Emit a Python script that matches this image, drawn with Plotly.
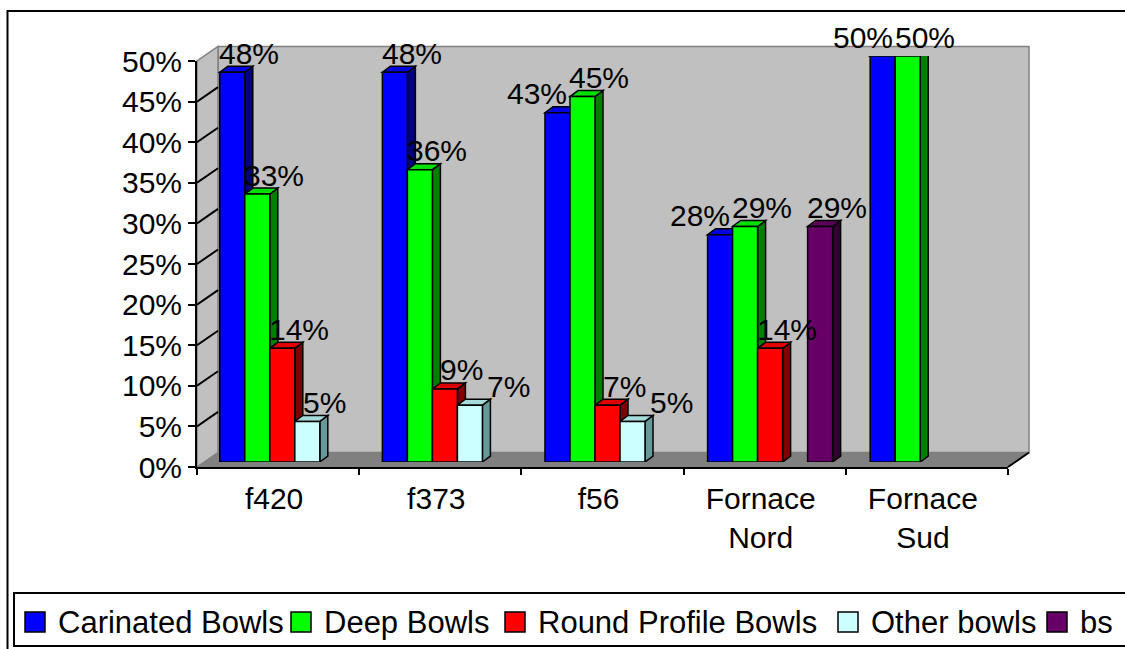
import plotly.graph_objects as go

# ---------------- data ----------------
categories = ["f420", "f373", "f56", "Fornace Nord", "Fornace Sud"]
tick_labels = ["f420", "f373", "f56", "Fornace<br>Nord", "Fornace<br>Sud"]
series_names = ["Carinated Bowls", "Deep Bowls", "Round Profile Bowls", "Other bowls", "bs"]
carinated = [48, 48, 43, 28, 50]
deep = [33, 36, 45, 29, 50]
round_profile = [14, 9, 7, 14, None]
other = [5, 7, 5, None, None]
bs = [None, None, None, 29, None]
series_values = [carinated, deep, round_profile, other, bs]
y_ticks = list(range(0, 55, 5))

# ---------------- style ----------------
front_col = ["#0000FF", "#00FF00", "#FF0000", "#CCFFFF", "#660066"]
side_col = ["#000080", "#008000", "#800000", "#669999", "#330033"]
top_col = ["#0000E0", "#00E000", "#E00000", "#A8DCDC", "#5A005A"]
FONT = "Liberation Sans, Arial, sans-serif"
FS = 30
LEG_FS = 31
W, H = 1125, 649


def X(px):
    return px / W


def Y(py):
    return 1 - py / H


# plane geometry (pixels)
FRONT_L, FRONT_R, FRONT_0, FRONT_TOP = 197, 1008, 467, 61
BACK_L, BACK_R, BACK_0, BACK_TOP = 218, 1029, 452.5, 46.5
BAR_L, BAR_R, BAR_0, BAR_TOP = 201, 1014, 462, 56

n_ser = len(series_names)
n_cat = len(categories)
bargap = 0.231
w = (1 - bargap) / n_ser
px_per_cat = (BAR_R - BAR_L) / n_cat
px_per_unit = (BAR_0 - BAR_TOP) / 50.0
DX = 8 / px_per_cat
DY = 6 / px_per_unit

# label shifts (avoid collisions of neighbouring labels, as in the original)
label_xshift = [[17] * n_cat for _ in range(n_ser)]
for i in range(n_cat):
    for k in range(n_ser - 1):
        v, vn = series_values[k][i], series_values[k + 1][i]
        if v is None or vn is None:
            continue
        if vn >= v - 1:
            label_xshift[k][i] = -20
        elif v - vn < 4:
            label_xshift[k + 1][i] += 22

fig = go.Figure()

# invisible trace to define front category axis
fig.add_trace(go.Scatter(x=categories, y=[0] * n_cat, xaxis="x2", yaxis="y2",
                         mode="markers", marker=dict(opacity=0), showlegend=False,
                         hoverinfo="skip"))

shapes = []
annotations = []

for k, (name, vals) in enumerate(zip(series_names, series_values)):
    offset = -0.5 * (1 - bargap) + k * w
    fig.add_trace(go.Bar(
        x=list(range(n_cat)), y=vals, xaxis="x3", yaxis="y3",
        width=w, offset=offset, name=name, showlegend=False,
        marker=dict(color=front_col[k], line=dict(color="black", width=1.5)),
    ))
    for i, v in enumerate(vals):
        if v is None:
            continue
        xl = i + offset
        xr = xl + w
        side = f"M{xr},0 L{xr + DX},{DY} L{xr + DX},{v + DY} L{xr},{v} Z"
        top = f"M{xl},{v} L{xr},{v} L{xr + DX},{v + DY} L{xl + DX},{v + DY} Z"
        shapes.append(dict(type="path", path=side, xref="x3", yref="y3", layer="below",
                           fillcolor=side_col[k], line=dict(color="black", width=1.5)))
        shapes.append(dict(type="path", path=top, xref="x3", yref="y3", layer="below",
                           fillcolor=top_col[k], line=dict(color="black", width=1.5)))
        annotations.append(dict(x=xl + w / 2, y=v, xref="x3", yref="y3", text=f"{v}%",
                                showarrow=False, xanchor="center", yanchor="middle",
                                xshift=label_xshift[k][i], yshift=19,
                                font=dict(family=FONT, size=FS, color="black")))

# outer chart border
shapes.append(dict(type="rect", xref="paper", yref="paper", x0=X(7.5), x1=X(1135),
                   y0=Y(660), y1=Y(11), line=dict(color="black", width=2), layer="below"))
# back wall
shapes.append(dict(type="rect", xref="paper", yref="paper", x0=X(BACK_L), x1=X(BACK_R),
                   y0=Y(BACK_0), y1=Y(BACK_TOP), fillcolor="#C0C0C0",
                   line=dict(color="#808080", width=1.5), layer="below"))
# left side wall
shapes.append(dict(type="path", xref="paper", yref="paper",
                   path=(f"M{X(FRONT_L)},{Y(FRONT_0)} L{X(BACK_L)},{Y(BACK_0)} "
                         f"L{X(BACK_L)},{Y(BACK_TOP)} L{X(FRONT_L)},{Y(FRONT_TOP)} Z"),
                   fillcolor="#C0C0C0", line=dict(color="#808080", width=1.5), layer="below"))
# floor
shapes.append(dict(type="path", xref="paper", yref="paper",
                   path=(f"M{X(FRONT_L)},{Y(FRONT_0)} L{X(FRONT_R)},{Y(FRONT_0)} "
                         f"L{X(BACK_R)},{Y(BACK_0)} L{X(BACK_L)},{Y(BACK_0)} Z"),
                   fillcolor="#808080", line=dict(color="#808080", width=1), layer="below"))
# right floor edge
shapes.append(dict(type="line", xref="paper", yref="paper", x0=X(FRONT_R), y0=Y(FRONT_0),
                   x1=X(BACK_R), y1=Y(BACK_0), line=dict(color="black", width=2)))
# side wall gridlines
for t in y_ticks[1:-1]:
    shapes.append(dict(type="line", xref="x2", yref="y2", xsizemode="pixel", ysizemode="pixel",
                       xanchor=-0.5, yanchor=t, x0=0, y0=0, x1=BACK_L - FRONT_L,
                       y1=FRONT_0 - BACK_0, line=dict(color="black", width=2), layer="above"))

# manual legend (box, swatches, labels)
LEG_TOP, LEG_BOT, LEG_L = 593, 646, 14
SW_Y0, SW_Y1 = 612, 632
swatch_left = [25, 291, 505, 838, 1047]
shapes.append(dict(type="rect", xref="paper", yref="paper", x0=X(LEG_L), x1=X(1140),
                   y0=Y(LEG_BOT), y1=Y(LEG_TOP), fillcolor="white",
                   line=dict(color="black", width=2), layer="above"))
for k, name in enumerate(series_names):
    sx = swatch_left[k]
    shapes.append(dict(type="rect", xref="paper", yref="paper", x0=X(sx), x1=X(sx + 20),
                       y0=Y(SW_Y1), y1=Y(SW_Y0), fillcolor=front_col[k],
                       line=dict(color="black", width=1.5), layer="above"))
    annotations.append(dict(x=X(sx + 31), y=Y((SW_Y0 + SW_Y1) / 2), xref="paper", yref="paper",
                            text=name, showarrow=False, xanchor="left", yanchor="middle",
                            font=dict(family=FONT, size=LEG_FS, color="black")))

fig.update_layout(
    width=W, height=H, margin=dict(l=0, r=0, t=0, b=0, autoexpand=False),
    paper_bgcolor="white", plot_bgcolor="rgba(0,0,0,0)", showlegend=False,
    barmode="overlay", shapes=shapes, annotations=annotations,
    font=dict(family=FONT, size=FS, color="black"),
    # back wall axes (gridlines)
    xaxis=dict(domain=[X(BACK_L), X(BACK_R)], range=[-0.5, 4.5], visible=False,
               anchor="y", automargin=False),
    yaxis=dict(domain=[Y(BACK_0), Y(BACK_TOP)], range=[0, 50], tickvals=y_ticks,
               showgrid=True, gridcolor="black", gridwidth=2, zeroline=False,
               showticklabels=False, ticks="", showline=False, anchor="x", automargin=False),
    # front axes (ticks & labels)
    xaxis2=dict(domain=[X(FRONT_L), X(FRONT_R)], type="category", range=[-0.5, 4.5],
                tickvals=categories, ticktext=tick_labels, tickson="boundaries",
                ticks="outside", ticklen=6, tickwidth=2, tickcolor="black",
                showline=True, linecolor="black", linewidth=2, showgrid=False,
                zeroline=False, anchor="y2", tickfont=dict(size=FS), ticklabelstandoff=4,
                ticklabelshift=-4, automargin=False),
    yaxis2=dict(domain=[Y(FRONT_0), Y(FRONT_TOP)], range=[0, 50], tickvals=y_ticks,
                ticktext=[f"{t}%" for t in y_ticks], ticks="outside", ticklen=7,
                tickwidth=2, tickcolor="black", showline=True, linecolor="black",
                linewidth=2, showgrid=False, zeroline=False, anchor="x2",
                tickfont=dict(size=FS), automargin=False),
    # bar plane axes
    xaxis3=dict(domain=[X(BAR_L), X(BAR_R)], range=[-0.5, 4.5], visible=False, anchor="y3",
                automargin=False),
    yaxis3=dict(domain=[Y(BAR_0), Y(BAR_TOP)], range=[0, 50], visible=False, anchor="x3",
                automargin=False),
)

fig.write_html("out.html")
